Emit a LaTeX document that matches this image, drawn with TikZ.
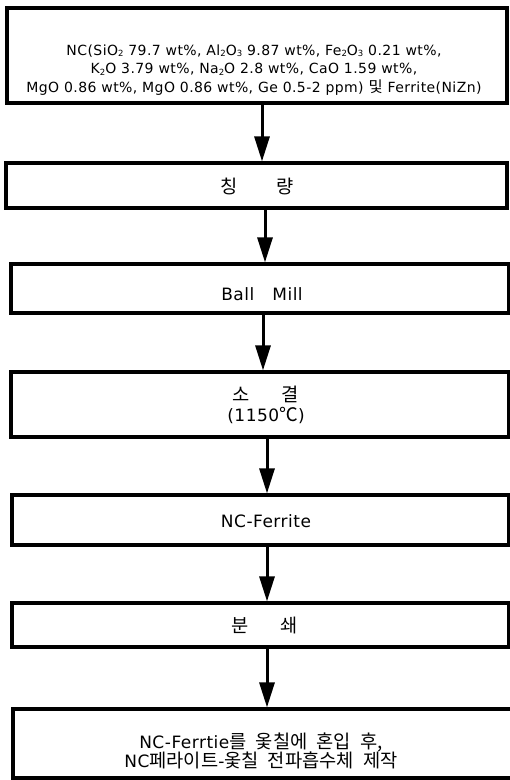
\documentclass[tikz,border=0pt]{standalone}
\usepackage{fontspec}
\setmainfont{DejaVu Sans}[LetterSpace=3]
\newfontfamily\kr{Noto Sans CJK KR}[Scale=1.1,WordSpace=2.2]
\usetikzlibrary{arrows.meta}
\newcommand\sbs[1]{\raisebox{-1.2pt}{\fontsize{8.5}{9}\selectfont #1}}
\tikzset{
  box/.style={draw, line width=3.2pt, inner sep=0pt},
  txt/.style={inner sep=0pt, align=center, font=\fontsize{17}{19.5}\selectfont},
  small/.style={inner sep=0pt, align=center, font=\fontsize{14}{18.5}\selectfont},
  arr/.style={line width=3pt, -{Triangle[length=25pt,width=15pt]}}
}
\begin{document}
\begin{tikzpicture}[x=1pt,y=-1pt]
\useasboundingbox (0,0) rectangle (510,780);
% boxes
\node[box, minimum width=500pt, minimum height=95pt] (B1) at (257,55.5) {};
\node[box, minimum width=501pt, minimum height=45pt] (B2) at (256.5,185.5) {};
\node[box, minimum width=498pt, minimum height=49pt] (B3) at (260,288.5) {};
\node[box, minimum width=498pt, minimum height=65pt] (B4) at (260,404.5) {};
\node[box, minimum width=497pt, minimum height=50pt] (B5) at (260.5,520) {};
\node[box, minimum width=497pt, minimum height=44pt] (B6) at (260.5,625) {};
\node[box, minimum width=500pt, minimum height=69pt] (B7) at (263,743.5) {};
% texts
\node[small] (T1) at (254,70) {NC(SiO\sbs{2} 79.7 wt\%, Al\sbs{2}O\sbs{3} 9.87 wt\%, Fe\sbs{2}O\sbs{3} 0.21 wt\%,\\
K\sbs{2}O 3.79 wt\%, Na\sbs{2}O 2.8 wt\%, CaO 1.59 wt\%,\\
MgO 0.86 wt\%, MgO 0.86 wt\%, Ge 0.5-2 ppm) {\kr 및} Ferrite(NiZn)};
\node[txt] (T2) at (257,186.5) {\kr 칭\hspace{38pt}량};
\node[txt] (T3) at (262,294) {Ball\hspace{18pt}Mill};
\node[txt] (T4) at (266,405) {{\kr 소\hspace{32pt}결}\\(1150{\kr ℃})};
\node[txt] (T5) at (266,521) {NC-Ferrite};
\node[txt] (T6) at (265,625) {\kr 분\hspace{32pt}쇄};
\node[txt] (T7) at (261,751) {NC-Ferrtie{\kr 를 옻칠에 혼입 후,}\\NC{\kr 페라이트}-{\kr 옻칠 전파흡수체 제작}};
% arrow columns
\coordinate (A1) at (262,0);
\coordinate (A2) at (265,0);
\coordinate (A3) at (263,0);
\coordinate (A4) at (267,0);
\draw[arr] (B1.south -| A1) -- (B2.north -| A1);
\draw[arr] (B2.south -| A2) -- (B3.north -| A2);
\draw[arr] (B3.south -| A3) -- (B4.north -| A3);
\draw[arr] (B4.south -| A4) -- (B5.north -| A4);
\draw[arr] (B5.south -| A4) -- (B6.north -| A4);
\draw[arr] (B6.south -| A4) -- (B7.north -| A4);
\end{tikzpicture}
\end{document}
